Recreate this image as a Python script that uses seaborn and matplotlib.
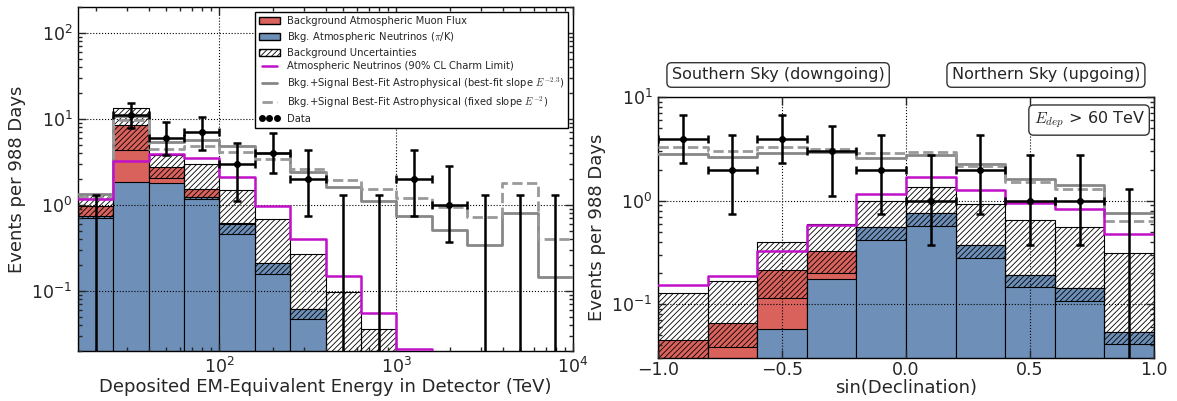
import numpy as np
import pandas as pd
import matplotlib
matplotlib.use("Agg")
import matplotlib.pyplot as plt
from matplotlib.patches import Patch
from matplotlib.lines import Line2D
import seaborn as sns

RED = "#da625d"
BLUE = "#6d8fb8"
MAGENTA = "#c010c8"
GREY = "#878787"
GREY_D = "#999999"
HATCH = "//////"

# ---------------------------------------------------------------- energy panel (14 bins)
e_edges = [15.85, 25.12, 39.81, 63.10, 100.0, 158.5, 251.2, 398.1,
           631.0, 1000.0, 1585.0, 2512.0, 3981.0, 6310.0, 10000.0]
e_nu = [0.74, 1.84, 1.79, 1.25, 0.60, 0.21, 0.0615, 0.015, 0.004,
        0.001, 0.0003, 0.0001, 0.00005, 0.00002]
e_bkg = [0.96, 8.6, 2.74, 1.52, 0.61, 0.212, 0.062, 0.015, 0.004,
         0.001, 0.0003, 0.0001, 0.00005, 0.00002]
e_band_lo = [0.70, 4.3, 2.04, 1.17, 0.46, 0.156, 0.047, 0.01, 0.003,
             0.0008, 0.0002, 0.0001, 0.00004, 0.00001]
e_band_hi = [1.33, 13.3, 3.8, 2.97, 1.5, 0.68, 0.27, 0.097, 0.036,
             0.012, 0.004, 0.002, 0.001, 0.0005]
e_charm = [1.17, 3.25, 3.9, 3.49, 2.1, 0.97, 0.40, 0.149, 0.056,
           0.021, 0.008, 0.003, 0.001, 0.0004]
e_fit = [1.33, 10.8, 5.4, 5.7, 4.9, 4.0, 2.44, 1.6, 1.12, 0.74, 0.51,
         0.34, 0.80, 0.146]
e_fixed = [1.25, 9.6, 4.5, 4.8, 4.1, 3.4, 2.6, 1.95, 1.53, 1.2, 0.94,
           0.73, 1.79, 0.40]
e_data = [0, 11, 6, 7, 3, 4, 2, 0, 0, 2, 1, 0, 0, 0]
e_data_lo = [0, 7.8, 3.8, 4.3, 1.1, 2.33, 0.74, 0, 0, 0.74, 0.37, 0, 0, 0]
e_data_hi = [1.29, 15.2, 9.3, 10.4, 5.3, 6.8, 4.3, 1.29, 1.29, 4.3, 2.8,
             1.29, 1.29, 1.29]

# ---------------------------------------------------------------- declination panel (10 bins)
d_edges = [-1.0, -0.8, -0.6, -0.4, -0.2, 0.0, 0.2, 0.4, 0.6, 0.8, 1.0]
d_nu = [0.02, 0.025, 0.057, 0.173, 0.56, 0.755, 0.372, 0.191, 0.142, 0.054]
d_bkg = [0.045, 0.066, 0.213, 0.328, 0.56, 0.755, 0.372, 0.191, 0.142, 0.054]
d_band_lo = [0.02, 0.0386, 0.1135, 0.201, 0.42, 0.569, 0.277, 0.145, 0.107, 0.041]
d_band_hi = [0.129, 0.168, 0.40, 0.594, 0.99, 1.37, 0.93, 0.65, 0.56, 0.314]
d_charm = [0.153, 0.187, 0.328, 0.58, 1.16, 1.71, 1.27, 0.94, 0.826, 0.476]
d_fit = [2.83, 2.65, 2.92, 2.98, 2.6, 2.8, 2.25, 1.61, 1.42, 0.766]
d_fixed = [3.33, 3.0, 3.33, 3.16, 2.88, 2.95, 2.15, 1.53, 1.29, 0.64]
d_data = [4, 2, 4, 3, 2, 1, 2, 1, 1, 0]
d_data_lo = [2.33, 0.74, 2.33, 1.1, 0.74, 0.37, 0.74, 0.37, 0.37, 0]
d_data_hi = [6.8, 4.3, 6.8, 5.3, 4.3, 2.8, 4.3, 2.8, 2.8, 1.29]


def hist(ax, centers, vals, edges, **kw):
    df = pd.DataFrame({"x": centers, "w": vals})
    sns.histplot(data=df, x="x", weights="w", bins=list(edges), ax=ax, **kw)


def draw_panel(ax, edges, centers, nu, bkg, band_lo, band_hi, charm, fit, fixed,
               data, data_lo, data_hi):
    edges = np.asarray(edges)
    # stacked background: muons (red) sit on top of neutrinos (blue)
    hist(ax, centers, bkg, edges, color=RED, alpha=1, edgecolor="black",
         linewidth=0.8, zorder=1)
    hist(ax, centers, nu, edges, color=BLUE, alpha=1, edgecolor="black",
         linewidth=0.8, zorder=1)
    ax.bar(edges[:-1], np.subtract(band_hi, band_lo), width=np.diff(edges),
           bottom=band_lo, align="edge", facecolor="none", edgecolor="black",
           hatch=HATCH, linewidth=0.8, zorder=2)
    for vals, color, ls, lw in [(fit, GREY, "-", 2.0), (fixed, GREY_D, "--", 2.0),
                                (charm, MAGENTA, "-", 1.8)]:
        hist(ax, centers, vals, edges, element="step", fill=False, color=color,
             linestyle=ls, linewidth=lw, zorder=3)
    data = np.asarray(data, dtype=float)
    ax.errorbar(centers, data,
                yerr=[data - np.asarray(data_lo), np.asarray(data_hi) - data],
                xerr=[centers - edges[:-1], edges[1:] - centers],
                fmt="o", color="black", markersize=4, elinewidth=1.8,
                capsize=3, capthick=1.8, zorder=4)


def style_axes(ax):
    ax.tick_params(which="both", direction="in", top=True, right=True,
                   labelsize=12.5, width=1, pad=4)
    ax.tick_params(which="major", length=6)
    ax.tick_params(which="minor", length=3)
    ax.set_axisbelow(False)
    ax.grid(True, which="major", color="black", linestyle=":", linewidth=0.8)
    for s in ax.spines.values():
        s.set_color("black")
        s.set_linewidth(1)


sns.set_style("ticks")
plt.rcParams["font.family"] = ["DejaVu Sans"]
plt.rcParams["hatch.linewidth"] = 0.6

fig = plt.figure(figsize=(11.77, 4.01), dpi=100)
ax1 = fig.add_axes([0.0663, 0.1247, 0.4206, 0.8579])
ax2 = fig.add_axes([0.5591, 0.1072, 0.4214, 0.6499])

e_centers = np.sqrt(np.asarray(e_edges[:-1]) * np.asarray(e_edges[1:]))
draw_panel(ax1, e_edges, e_centers, e_nu, e_bkg, e_band_lo, e_band_hi, e_charm,
           e_fit, e_fixed, e_data, e_data_lo, e_data_hi)
ax1.set_xscale("log")
ax1.set_yscale("log")
ax1.set_xlim(e_edges[0], e_edges[-1])
ax1.set_ylim(0.02, 200)
ax1.set_xlabel("Deposited EM-Equivalent Energy in Detector (TeV)", fontsize=13, labelpad=1)
ax1.set_ylabel("Events per 988 Days", fontsize=13)
style_axes(ax1)

d_centers = (np.asarray(d_edges[:-1]) + np.asarray(d_edges[1:])) / 2
draw_panel(ax2, d_edges, d_centers, d_nu, d_bkg, d_band_lo, d_band_hi, d_charm,
           d_fit, d_fixed, d_data, d_data_lo, d_data_hi)
ax2.set_yscale("log")
ax2.set_xlim(-1, 1)
ax2.set_ylim(0.03, 10)
ax2.set_xticks([-1.0, -0.5, 0.0, 0.5, 1.0])
ax2.set_xlabel("sin(Declination)", fontsize=13, labelpad=0)
ax2.set_ylabel("Events per 988 Days", fontsize=13)
style_axes(ax2)
ax2.tick_params(axis="x", pad=2)

box = dict(boxstyle="round,pad=0.3", facecolor="white", edgecolor="#333333", linewidth=1)
ax2.text(0.242, 1.086, "Southern Sky (downgoing)", transform=ax2.transAxes,
         ha="center", va="center", fontsize=11.5, bbox=box)
ax2.text(0.782, 1.086, "Northern Sky (upgoing)", transform=ax2.transAxes,
         ha="center", va="center", fontsize=11.5, bbox=box)
t = ax2.text(0.869, 0.913, r"$E_{dep}$ > 60 TeV", transform=ax2.transAxes,
             ha="center", va="center", fontsize=11.5, bbox=box, zorder=6)
t.set_math_fontfamily("cm")

handles = [
    Patch(facecolor=RED, edgecolor="black", label="Background Atmospheric Muon Flux"),
    Patch(facecolor=BLUE, edgecolor="black", label=r"Bkg. Atmospheric Neutrinos ($\pi$/K)"),
    Patch(facecolor="white", edgecolor="black", hatch=HATCH, label="Background Uncertainties"),
    Line2D([], [], color=MAGENTA, lw=1.8, label="Atmospheric Neutrinos (90% CL Charm Limit)"),
    Line2D([], [], color=GREY, lw=2,
           label=r"Bkg.+Signal Best-Fit Astrophysical (best-fit slope $E^{-2.3}$)"),
    Line2D([], [], color=GREY_D, lw=2, ls="--",
           label=r"Bkg.+Signal Best-Fit Astrophysical (fixed slope $E^{-2}$)"),
    Line2D([], [], color="black", marker="o", ls="none", markersize=4, label="Data"),
]
leg = ax1.legend(handles=handles, loc="upper right", fontsize=7.2, labelspacing=0.38,
                 handlelength=2.1, handletextpad=0.7, numpoints=3, borderaxespad=0.5,
                 borderpad=0.4, fancybox=False, framealpha=1, edgecolor="black")
leg.get_frame().set_linewidth(1)
leg.set_zorder(10)
for txt in leg.get_texts():
    txt.set_math_fontfamily("cm")

fig.savefig("out.png", dpi=100)
